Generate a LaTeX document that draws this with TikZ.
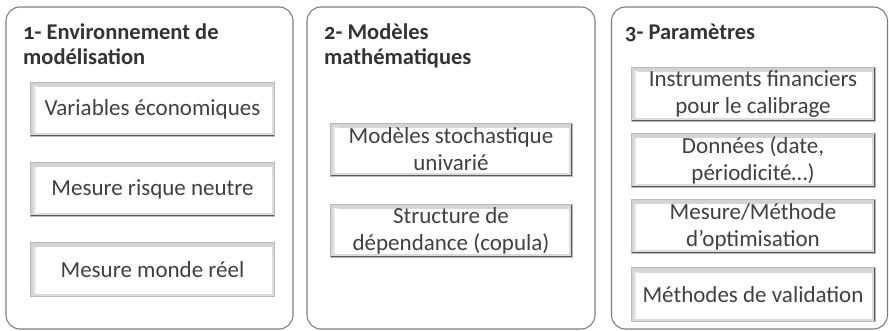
\documentclass[tikz,border=0pt]{standalone}
\usepackage{fontspec}
\setmainfont{Carlito}
\newfontfamily\ttlfont[Numbers=OldStyle]{Carlito}
\definecolor{txt}{HTML}{404040}
\definecolor{ttl}{HTML}{333333}
\definecolor{frame}{HTML}{7F7F7F}
\begin{document}
\begin{tikzpicture}[x=1pt,y=-1pt,
  outerbox/.style={draw=frame, line width=1.1pt, rounded corners=14pt, fill=white, inner sep=0pt},
  title/.style={anchor=base west, align=left, text=ttl, inner sep=0pt,
    font={\ttlfont\bfseries\fontsize{22.5}{25.5}\selectfont}},
  ibox/.style={inner sep=0pt, align=center, text=txt,
    font={\fontsize{23}{27}\selectfont},
    fill=gray!28, draw=gray!55, line width=0.6pt,
    path picture={
      \shade[top color=gray!35, bottom color=white]
        ([shift={(1pt,-1pt)}]path picture bounding box.north west) rectangle
        ([shift={(-1pt,-7pt)}]path picture bounding box.north east);
      \shade[left color=gray!35, right color=white]
        ([shift={(1pt,-5pt)}]path picture bounding box.north west) rectangle
        ([shift={(7pt,3pt)}]path picture bounding box.south west);
      \fill[white] ([shift={(5pt,-5pt)}]path picture bounding box.north west) rectangle
        ([shift={(-3pt,3pt)}]path picture bounding box.south east);
      \draw[gray!70!black, line width=1pt]
        ([shift={(0pt,0.5pt)}]path picture bounding box.south west) --
        ([shift={(-0.5pt,0.5pt)}]path picture bounding box.south east) --
        ([shift={(-0.5pt,0pt)}]path picture bounding box.north east);
    }}
]
\useasboundingbox (0,0) rectangle (889,331);

% outer panels
\node[outerbox, minimum width=287pt, minimum height=322pt] (p1) at (149.5,168) {};
\node[outerbox, minimum width=288pt, minimum height=322pt] (p2) at (451,168) {};
\node[outerbox, minimum width=276pt, minimum height=322pt] (p3) at (749.5,168) {};

% titles (base = baseline of last line)
\node[title] (t1) at (23,65) {1- Environnement de\\modélisation};
\node[title] (t2) at (324,65) {2- Modèles\\mathématiques};
\node[title] (t3) at (625,39.5) {3- Paramètres};

% column 1
\node[ibox, minimum width=244pt, minimum height=54pt] (a1) at (152.5,109) {Variables économiques};
\node[ibox, minimum width=244pt, minimum height=54pt] (a2) at (152.5,189.5) {Mesure risque neutre};
\node[ibox, minimum width=244pt, minimum height=54pt] (a3) at (152.5,269.5) {Mesure monde réel};

% column 2
\node[ibox, minimum width=242pt, minimum height=53pt] (b1) at (451,149.5) {Modèles stochastique\\univarié};
\node[ibox, minimum width=242pt, minimum height=53pt] (b2) at (451,230.5) {Structure de\\dépendance (copula)};

% column 3
\node[ibox, minimum width=244pt, minimum height=54pt] (c1) at (753,94) {Instruments financiers\\pour le calibrage};
\node[ibox, minimum width=244pt, minimum height=54pt] (c2) at (753,160.5) {Données (date,\\périodicité…)};
\node[ibox, minimum width=244pt, minimum height=54pt] (c3) at (753,226.5) {Mesure/Méthode\\d’optimisation};
\node[ibox, minimum width=244pt, minimum height=54pt] (c4) at (753,294.5) {Méthodes de validation};
\end{tikzpicture}
\end{document}
